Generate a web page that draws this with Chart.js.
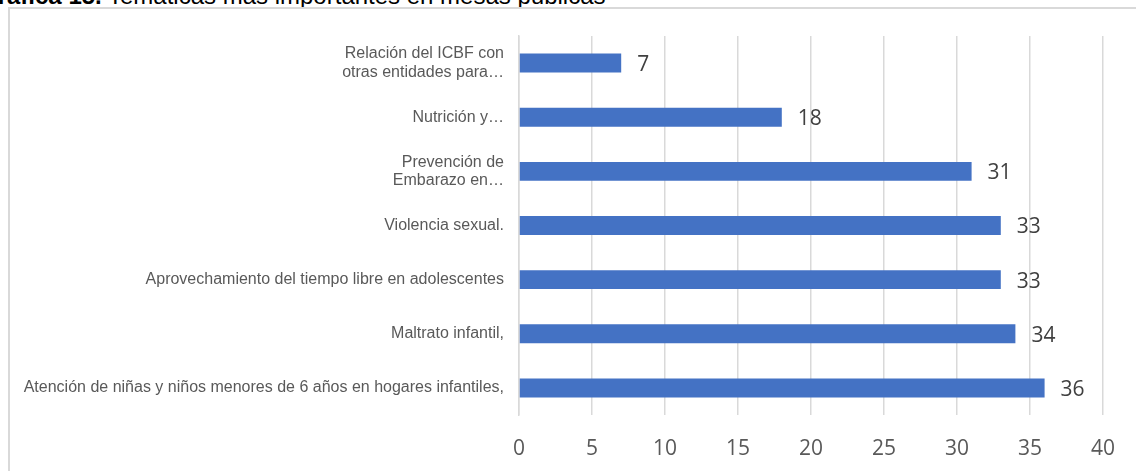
<!DOCTYPE html>
<html><head><meta charset="utf-8">
<script src="https://cdn.jsdelivr.net/npm/chart.js@4"></script>
<style>
html,body{margin:0;padding:0;background:#fff;overflow:hidden;}
#wrap{position:relative;width:1136px;height:471px;overflow:hidden;}
#title{position:absolute;left:-21px;top:-18px;font-family:"Liberation Sans",Arial,sans-serif;font-size:24px;color:#000;white-space:nowrap;}
#box{position:absolute;left:8px;top:7px;width:1300px;height:600px;border:2px solid #d9d9d9;box-sizing:border-box;}
canvas{position:absolute;left:0;top:0;}
</style></head>
<body>
<div id="wrap">
<div id="title"><b>Gráfica 15.</b> Temáticas más importantes en mesas públicas</div>
<div id="box"></div>
<canvas id="c" width="1136" height="471"></canvas>
</div>
<script>
const categories = [
  ["Relación del ICBF con","otras entidades para…"],
  "Nutrición y…",
  ["Prevención de","Embarazo en…"],
  "Violencia sexual.",
  "Aprovechamiento del tiempo libre en adolescentes",
  "Maltrato infantil,",
  "Atención de niñas y niños menores de 6 años en hogares infantiles,"
];
const values = [7, 18, 31, 33, 33, 34, 36];
const xTicks = [0, 5, 10, 15, 20, 25, 30, 35, 40];

const dataLabels = {
  id: 'dataLabels',
  afterDatasetsDraw(chart) {
    const ctx = chart.ctx;
    const meta = chart.getDatasetMeta(0);
    ctx.save();
    ctx.font = '21px "Open Sans", sans-serif';
    ctx.fillStyle = '#404040';
    ctx.textAlign = 'left';
    ctx.textBaseline = 'middle';
    meta.data.forEach((el, i) => {
      ctx.fillText(String(values[i]), el.x + 16, el.y + 2);
    });
    ctx.restore();
  }
};

new Chart(document.getElementById('c'), {
  type: 'bar',
  data: {
    labels: categories,
    datasets: [{
      data: values,
      backgroundColor: '#4472C4',
      borderWidth: 0,
      categoryPercentage: 1,
      barPercentage: 0.35
    }]
  },
  options: {
    indexAxis: 'y',
    responsive: false,
    animation: false,
    layout: { padding: { top: 36, right: 32, left: 0, bottom: 0 } },
    plugins: { legend: { display: false }, tooltip: { enabled: false }, title: { display: false } },
    scales: {
      x: {
        min: 0, max: 40,
        afterBuildTicks(scale) { scale.ticks = xTicks.map(v => ({ value: v })); },
        afterFit(scale) { scale.height = 56; },
        grid: { color: '#d9d9d9', lineWidth: 1.5, drawTicks: false },
        border: { display: false },
        ticks: { padding: 21, color: '#595959', font: { family: '"Open Sans", sans-serif', size: 21 } }
      },
      y: {
        afterFit(scale) { scale.width = 519; },
        grid: { display: false, drawTicks: false },
        border: { display: true, color: '#d9d9d9', width: 1.5 },
        ticks: { padding: 15, color: '#595959', font: { family: '"Liberation Sans", Arial, sans-serif', size: 16, lineHeight: 1.15 } }
      }
    }
  },
  plugins: [dataLabels]
});
</script>
</body></html>
